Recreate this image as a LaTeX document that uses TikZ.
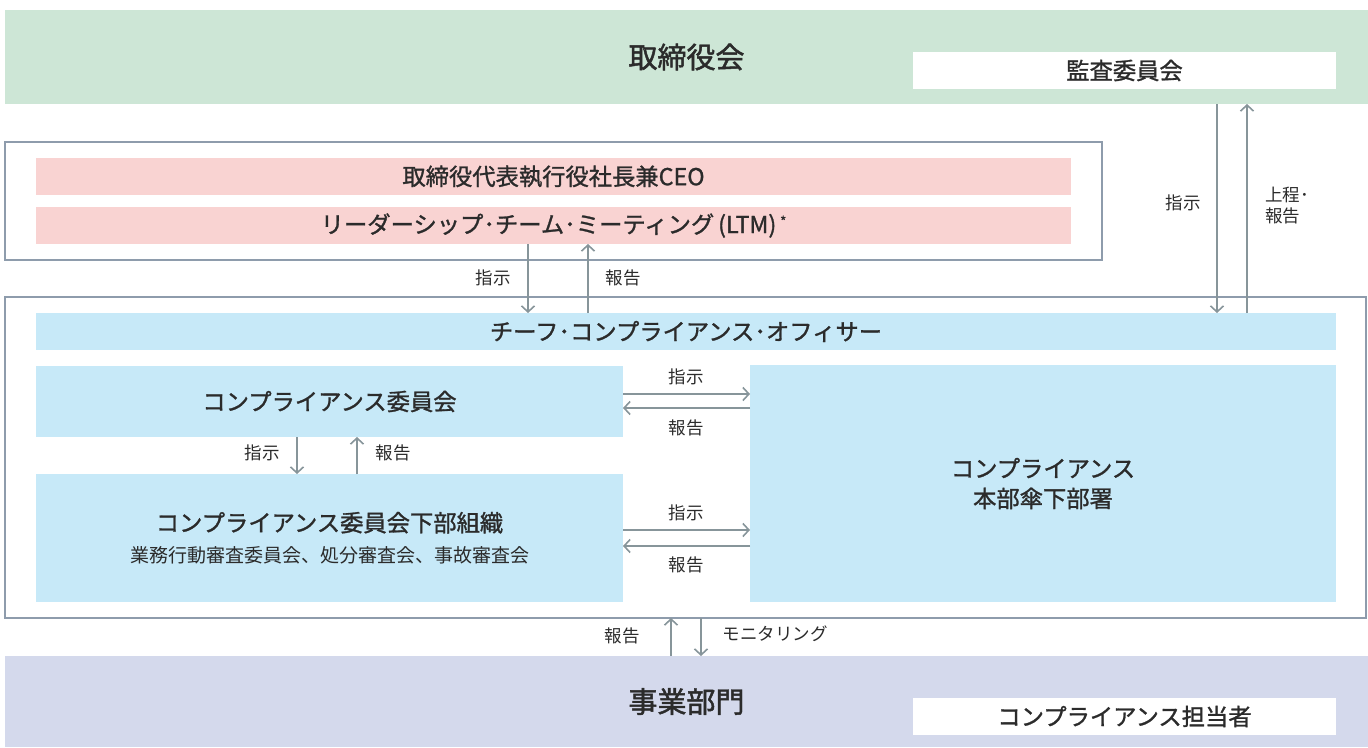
\documentclass[tikz,border=0pt]{standalone}
\usepackage{fontspec}
\setmainfont{Noto Sans CJK JP}
\newfontfamily\medfont{Noto Sans CJK JP}[RawFeature={embolden=1.2}]
\newfontfamily\bigfont{Noto Sans CJK JP}[RawFeature={embolden=1.6}]
\usetikzlibrary{arrows.meta,calc}
\definecolor{bggreen}{HTML}{CDE6D6}
\definecolor{bgpink}{HTML}{F9D3D2}
\definecolor{bgblue}{HTML}{C7E9F8}
\definecolor{bglav}{HTML}{D4D9EC}
\definecolor{frameclr}{HTML}{8E9CAC}
\definecolor{arrclr}{HTML}{87959A}
\definecolor{txtclr}{HTML}{2B2B2B}
\tikzset{
  blk/.style={anchor=north west, inner sep=0pt, outer sep=0pt, text=txtclr, align=center},
  frm/.style={draw=frameclr, line width=1.6pt, anchor=north west, inner sep=0pt, outer sep=0pt},
  ttl/.style={font=\medfont\fontsize{23.3}{30}\selectfont},
  big/.style={font=\bigfont\fontsize{29}{34}\selectfont},
  lbl/.style={text=txtclr, inner sep=0pt, font=\fontsize{17.5}{21}\selectfont, align=left},
  arr/.style={draw=arrclr, line width=2.2pt, -{Straight Barb[length=6pt,width=13pt,line width=1.6pt]}},
}
\begin{document}
\begin{tikzpicture}[x=1pt,y=-1pt]
\useasboundingbox (0,0) rectangle (1368,747);
% top board
\node[blk, big, fill=bggreen, minimum width=1363pt, minimum height=94pt] (board) at (5,10) {取締役会};
\node[blk, ttl, fill=white, minimum width=423pt, minimum height=37pt] (audit) at (913,52) {監査委員会};
% LTM frame
\node[frm, minimum width=1097pt, minimum height=118pt] (ltmframe) at (5,142) {};
\node[blk, ttl, fill=bgpink, minimum width=1035pt, minimum height=37pt] (ceo) at (36,158) {取締役代表執行役社長兼CEO};
\node[blk, ttl, fill=bgpink, minimum width=1035pt, minimum height=37pt] (ltm) at (36,207) {リーダーシップ･チーム･ミーティング\,(LTM)\,\raisebox{0.3em}{\fontsize{13}{13}\selectfont *}};
% compliance frame
\node[frm, minimum width=1361pt, minimum height=321pt] (cframe) at (5,297) {};
\node[blk, ttl, fill=bgblue, minimum width=1300pt, minimum height=37pt] (cco) at (36,313) {チーフ･コンプライアンス･オフィサー};
\node[blk, ttl, fill=bgblue, minimum width=587pt, minimum height=71pt] (comm) at (36,366) {コンプライアンス委員会};
\node[blk, ttl, fill=bgblue, minimum width=587pt, minimum height=128pt] (sub) at (36,474) {コンプライアンス委員会下部組織\\[1pt]{\normalfont\fontsize{19}{22}\selectfont 業務行動審査委員会、処分審査会、事故審査会}};
\node[blk, ttl, fill=bgblue, minimum width=586pt, minimum height=237pt] (dept) at (750,365) {コンプライアンス\\本部傘下部署};
% bottom
\node[blk, big, fill=bglav, minimum width=1363pt, minimum height=91pt] (biz) at (5,656) {事業部門};
\node[blk, ttl, fill=white, minimum width=423pt, minimum height=37pt] (officer) at (913,698) {コンプライアンス担当者};
% coordinates for arrow lanes
\coordinate (xa) at (528,0);
\coordinate (xb) at (588,0);
\coordinate (xc) at (1217,0);
\coordinate (xd) at (1247,0);
\coordinate (xe) at (297,0);
\coordinate (xf) at (357,0);
\coordinate (xg) at (671,0);
\coordinate (xh) at (701,0);
\coordinate (ya) at (0,394);
\coordinate (yb) at (0,408);
\coordinate (yc) at (0,530);
\coordinate (yd) at (0,546);
% arrows
\draw[arr] (xa |- ltm.south) -- (xa |- cco.north);
\draw[arr] (xb |- cco.north) -- (xb |- ltm.south);
\draw[arr] (xc |- board.south) -- (xc |- cco.north);
\draw[arr] (xd |- cco.north) -- (xd |- board.south);
\draw[arr] (xe |- comm.south) -- (xe |- sub.north);
\draw[arr] (xf |- sub.north) -- (xf |- comm.south);
\draw[arr] (comm.east |- ya) -- (dept.west |- ya);
\draw[arr] (dept.west |- yb) -- (comm.east |- yb);
\draw[arr] (sub.east |- yc) -- (dept.west |- yc);
\draw[arr] (dept.west |- yd) -- (sub.east |- yd);
\draw[arr] (xg |- biz.north) -- (xg |- cframe.south);
\draw[arr] (xh |- cframe.south) -- (xh |- biz.north);
% labels
\node[lbl] (l1) at (493,278) {指示};
\node[lbl] (l2) at (623,278) {報告};
\node[lbl] (l3) at (1183,203) {指示};
\node[lbl, anchor=west] (l4) at (1265,206) {上程･\\報告};
\node[lbl] (l5) at (262,453) {指示};
\node[lbl] (l6) at (393,453) {報告};
\node[lbl] (l7) at (686,377) {指示};
\node[lbl] (l8) at (686,428) {報告};
\node[lbl] (l9) at (686,513) {指示};
\node[lbl] (l10) at (686,565) {報告};
\node[lbl] (l11) at (622,636) {報告};
\node[lbl] (l12) at (775,634) {モニタリング};
\end{tikzpicture}
\end{document}
